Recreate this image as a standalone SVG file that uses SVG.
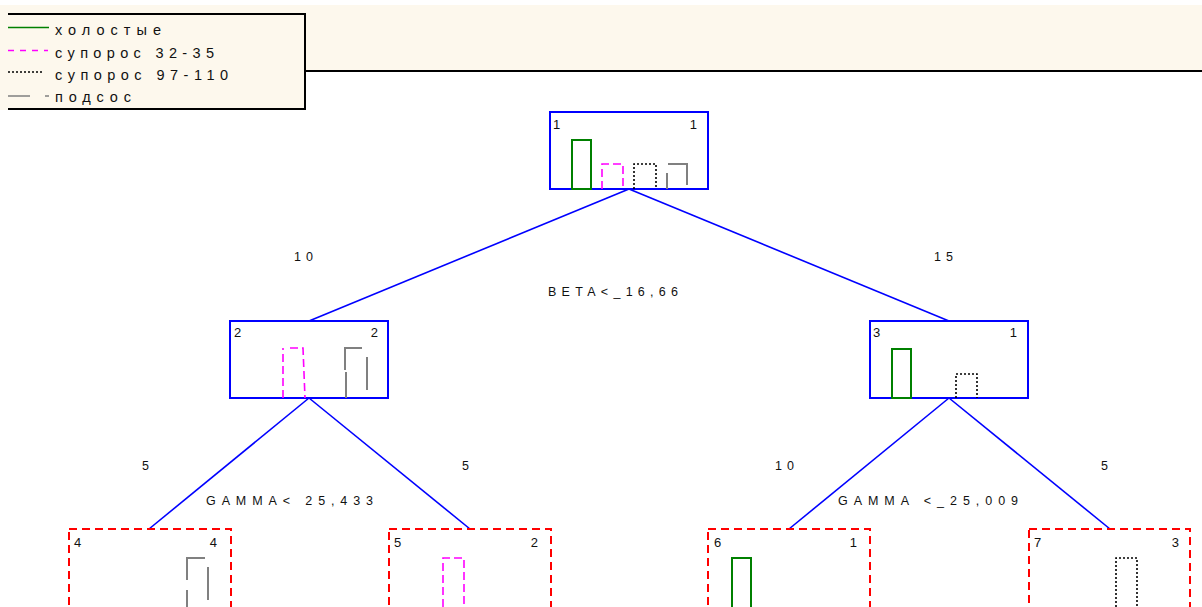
<svg xmlns="http://www.w3.org/2000/svg" width="1202" height="607" viewBox="0 0 1202 607">
<style>
text{font-family:"Liberation Sans",Arial,sans-serif;fill:#111}
.lg{font-size:14.5px;letter-spacing:3px}
.nl{font-size:13px}
.el{font-size:12.5px;letter-spacing:3px}
.node{fill:none;stroke:#0000ff;stroke-width:2}
.leaf{fill:none;stroke:#ff0000;stroke-width:2;stroke-dasharray:8 5}
.g{fill:none;stroke:#008000;stroke-width:2}
.m{fill:none;stroke:#ff00ff;stroke-width:1.6;stroke-dasharray:8 4}
.k{fill:none;stroke:#000;stroke-width:1.6;stroke-dasharray:2 2}
.gr{fill:none;stroke:#808080;stroke-width:2}
.conn{stroke:#0000ff;stroke-width:1.6;fill:none}
</style>
<rect x="0" y="5" width="1202" height="66" fill="#fdf8ed"/>
<line x1="305" y1="71" x2="1202" y2="71" stroke="#000" stroke-width="2"/>
<g id="legend">
<rect x="0" y="13" width="306" height="97" fill="#fdf8ed"/>
<path d="M8,14 H305 V109 H8" fill="none" stroke="#000" stroke-width="2"/>
<line x1="8" y1="27.5" x2="49" y2="27.5" stroke="#008000" stroke-width="1.6"/>
<line x1="8" y1="50.5" x2="48" y2="50.5" stroke="#ff00ff" stroke-width="1.6" stroke-dasharray="6 6"/>
<line x1="8" y1="72" x2="44" y2="72" stroke="#000" stroke-width="1.4" stroke-dasharray="2 2"/>
<path d="M8,96 H30 M45,96 H49" stroke="#808080" stroke-width="1.6"/>
<text class="lg" x="55" y="35" textLength="109">холостые</text>
<text class="lg" x="55" y="57.5" textLength="162">супорос 32-35</text>
<text class="lg" x="55" y="80" textLength="176">супорос 97-110</text>
<text class="lg" x="55" y="102" textLength="79">подсос</text>
</g>
<g id="connectors">
<line class="conn" x1="629" y1="189" x2="309" y2="321"/>
<line class="conn" x1="629" y1="189" x2="949" y2="321"/>
<line class="conn" x1="309" y1="398" x2="149" y2="529"/>
<line class="conn" x1="309" y1="398" x2="470" y2="529"/>
<line class="conn" x1="949" y1="398" x2="789" y2="529"/>
<line class="conn" x1="949" y1="398" x2="1110" y2="529"/>
<text class="el" x="294" y="261" textLength="22">10</text>
<text class="el" x="934" y="261" textLength="22">15</text>
<text class="el" x="142" y="470">5</text>
<text class="el" x="462" y="470">5</text>
<text class="el" x="775" y="470" textLength="22">10</text>
<text class="el" x="1101" y="470">5</text>
<text class="el" x="548" y="296" textLength="133">BETA&lt;_16,66</text>
<text class="el" x="206" y="505" textLength="170">GAMMA&lt; 25,433</text>
<text class="el" x="838" y="505" textLength="183">GAMMA &lt;_25,009</text>
</g>
<g id="node1">
<rect class="node" x="550" y="112" width="158" height="77"/>
<text class="nl" x="553" y="129">1</text>
<text class="nl" x="697" y="129" text-anchor="end">1</text>
<rect class="g" x="572" y="140" width="19" height="49"/>
<path class="m" d="M602,189 V164 H623 V189"/>
<path class="k" d="M634,189 V164 H656 V189"/>
<path class="gr" d="M667,189 V173 M668,164 H687 V185"/>
</g>
<g id="node2">
<rect class="node" x="230" y="321" width="158" height="77"/>
<text class="nl" x="234" y="337">2</text>
<text class="nl" x="378" y="337" text-anchor="end">2</text>
<path class="m" d="M283,398 V348 M290,348 H303 L305,398"/>
<path class="gr" d="M346,398 V372 M345,370 V348 H362 M367,357 V390"/>
</g>
<g id="node3">
<rect class="node" x="870" y="321" width="158" height="77"/>
<text class="nl" x="873" y="337">3</text>
<text class="nl" x="1017" y="337" text-anchor="end">1</text>
<rect class="g" x="892" y="349" width="19" height="49"/>
<path class="k" d="M956,398 V374 H977 V398"/>
</g>
<g id="node4">
<rect class="leaf" x="69" y="529" width="162" height="84"/>
<text class="nl" x="74" y="547">4</text>
<text class="nl" x="217" y="547" text-anchor="end">4</text>
<path class="gr" d="M187,607 V590 M187,580 V558 H205 M208,567 V600"/>
</g>
<g id="node5">
<rect class="leaf" x="389" y="529" width="162" height="84"/>
<text class="nl" x="394" y="547">5</text>
<text class="nl" x="538" y="547" text-anchor="end">2</text>
<path class="m" d="M443,607 V558 H464 V607"/>
</g>
<g id="node6">
<rect class="leaf" x="708" y="529" width="162" height="84"/>
<text class="nl" x="714" y="547">6</text>
<text class="nl" x="857" y="547" text-anchor="end">1</text>
<rect class="g" x="732" y="558" width="19" height="55"/>
</g>
<g id="node7">
<rect class="leaf" x="1029" y="529" width="161" height="84"/>
<text class="nl" x="1034" y="547">7</text>
<text class="nl" x="1179" y="547" text-anchor="end">3</text>
<path class="k" d="M1116,607 V558 H1137 V607"/>
</g>
</svg>
